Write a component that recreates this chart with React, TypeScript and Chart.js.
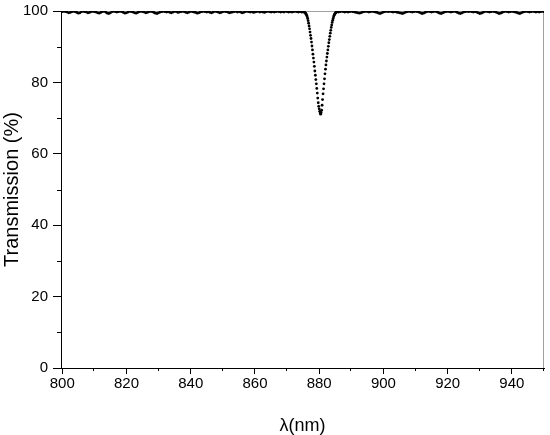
import { useEffect, useRef } from 'react';
import { Chart, registerables } from 'chart.js';

Chart.register(...registerables);

// Baseline left of the dip: wavelength 800.0 .. 875.0 nm, 0.5 nm step
const baseLeftStart = 800;
const baseStep = 0.5;
const baseLeftT = [
  99.8, 99.9, 99.8, 99.7, 99.5, 99.6, 99.8, 99.9, 99.8, 99.6, 99.4, 99.5, 99.8, 99.9, 99.8, 99.7, 99.5, 99.6,
  99.8, 99.9, 99.8, 99.7, 99.5, 99.4, 99.6, 99.8, 99.9, 99.7, 99.4, 99.3, 99.5, 99.8, 99.9, 99.8, 99.7, 99.8, 99.9,
  99.8, 99.6, 99.4, 99.5, 99.7, 99.9, 99.8, 99.7, 99.5, 99.4, 99.6, 99.8, 99.9, 99.8, 99.7, 99.5, 99.6, 99.8, 99.9,
  99.8, 99.6, 99.4, 99.3, 99.5, 99.7, 99.8, 99.9, 99.8, 99.7, 99.8, 99.6, 99.5, 99.7, 99.9, 99.8, 99.6, 99.7, 99.8,
  99.9, 99.8, 99.6, 99.5, 99.7, 99.9, 99.8, 99.7, 99.6, 99.4, 99.5, 99.7, 99.8, 99.9, 99.8, 99.7, 99.8, 99.6, 99.5,
  99.7, 99.9, 99.8, 99.7, 99.5, 99.6, 99.8, 99.9, 99.8, 99.7, 99.5, 99.6, 99.7, 99.8, 99.9, 99.7, 99.8, 99.7, 99.5,
  99.6, 99.8, 99.9, 99.8, 99.7, 99.8, 99.6, 99.7, 99.8, 99.9, 99.7, 99.8, 99.7, 99.6, 99.8, 99.9, 99.8, 99.7, 99.8,
  99.7, 99.8, 99.9, 99.8, 99.7, 99.8, 99.7, 99.9, 99.8, 99.7, 99.8, 99.7, 99.8, 99.9, 99.8, 99.7, 99.8, 99.7, 99.7,
];

// Absorption dip
const dipLambda = [
  875.5, 875.65, 875.8, 875.95, 876.1, 876.25, 876.4, 876.55, 876.7, 876.85,
  877.0, 877.15, 877.3, 877.45, 877.6, 877.75, 877.9, 878.05, 878.2, 878.35,
  878.5, 878.65, 878.8, 878.95, 879.1, 879.25, 879.4, 879.55, 879.7, 879.85,
  880.0, 880.15, 880.3, 880.45, 880.6, 880.75, 880.9, 881.05, 881.2, 881.35,
  881.5, 881.65, 881.8, 881.95, 882.1, 882.25, 882.4, 882.55, 882.7, 882.85,
  883.0, 883.15, 883.3, 883.45, 883.6, 883.75, 883.9, 884.05, 884.2, 884.35,
  884.5, 884.65, 884.8, 884.95, 885.1, 885.25, 885.4,
];
const dipT = [
  99.6, 99.5, 99.3, 99.1, 98.8, 98.4, 97.9, 97.3, 96.6, 95.8,
  95.0, 94.1, 93.2, 92.3, 91.3, 90.2, 89.1, 87.9, 86.8, 85.7,
  84.5, 83.2, 82.0, 80.8, 79.6, 78.3, 77.0, 75.6, 74.3, 73.3,
  72.6, 71.9, 71.4, 71.1, 71.5, 72.2, 73.6, 75.2, 76.8, 78.2,
  79.6, 81.0, 82.4, 83.7, 84.9, 86.0, 87.1, 88.1, 89.1, 90.1,
  91.1, 92.0, 92.9, 93.8, 94.6, 95.4, 96.1, 96.8, 97.4, 97.9,
  98.4, 98.8, 99.1, 99.3, 99.5, 99.6, 99.7,
];

// Baseline right of the dip: 885.5 .. 950.0 nm, 0.5 nm step
const baseRightStart = 885.5;
const baseRightT = [
  99.8, 99.7, 99.8, 99.9, 99.8, 99.7, 99.8, 99.7, 99.8, 99.9, 99.8, 99.7, 99.6,
  99.5, 99.4, 99.5, 99.7, 99.8, 99.9, 99.8, 99.7, 99.8, 99.9, 99.8, 99.7, 99.6,
  99.4, 99.3, 99.5, 99.7, 99.8, 99.9, 99.8, 99.9, 99.8, 99.7, 99.8, 99.7, 99.6,
  99.5, 99.4, 99.3, 99.5, 99.7, 99.8, 99.9, 99.8, 99.7, 99.8, 99.9, 99.8, 99.7,
  99.5, 99.3, 99.4, 99.6, 99.8, 99.9, 99.8, 99.7, 99.8, 99.9, 99.8, 99.6, 99.4,
  99.3, 99.5, 99.7, 99.8, 99.9, 99.8, 99.7, 99.8, 99.9, 99.8, 99.6, 99.4, 99.3,
  99.5, 99.7, 99.8, 99.9, 99.8, 99.9, 99.8, 99.7, 99.8, 99.7, 99.5, 99.3, 99.4,
  99.6, 99.8, 99.9, 99.8, 99.7, 99.8, 99.9, 99.8, 99.7, 99.5, 99.3, 99.4, 99.6,
  99.8, 99.9, 99.8, 99.7, 99.8, 99.9, 99.8, 99.7, 99.6, 99.4, 99.3, 99.5, 99.7,
  99.8, 99.9, 99.8, 99.7, 99.8, 99.9, 99.8, 99.7, 99.8, 99.7, 99.8, 99.9, 99.8,
];

const xMajorTicks = [800, 820, 840, 860, 880, 900, 920, 940];
const xMinorTicks = [810, 830, 850, 870, 890, 910, 930, 950];
const yMajorTicks = [0, 20, 40, 60, 80, 100];
const yMinorTicks = [10, 30, 50, 70, 90];

const FONT = "'Liberation Sans', Arial, Helvetica, sans-serif";

const decorPlugin = {
  id: 'decor',
  beforeDatasetsDraw(chart: any) {
    const { ctx, chartArea: a } = chart;
    ctx.save();
    ctx.strokeStyle = '#a0a0a0';
    ctx.lineWidth = 1;
    ctx.beginPath();
    ctx.moveTo(a.left, a.top + 0.5);
    ctx.lineTo(a.right - 0.5, a.top + 0.5);
    ctx.lineTo(a.right - 0.5, a.bottom);
    ctx.stroke();
    ctx.restore();
  },
  afterDraw(chart: any) {
    const { ctx, chartArea: a, scales } = chart;
    ctx.save();
    ctx.strokeStyle = '#000';
    ctx.lineWidth = 1;
    ctx.beginPath();
    for (const v of xMinorTicks) {
      const px = Math.round(scales.x.getPixelForValue(v)) - 0.5;
      ctx.moveTo(px, a.bottom);
      ctx.lineTo(px, a.bottom + 3);
    }
    for (const v of yMinorTicks) {
      const py = Math.round(scales.y.getPixelForValue(v)) + 0.5;
      ctx.moveTo(a.left, py);
      ctx.lineTo(a.left - 4, py);
    }
    ctx.stroke();
    ctx.restore();
  },
};

export default function App() {
  const ref = useRef<HTMLCanvasElement | null>(null);

  useEffect(() => {
    const points: { x: number; y: number }[] = [];
    baseLeftT.forEach((t, i) => points.push({ x: baseLeftStart + i * baseStep, y: t }));
    dipLambda.forEach((l, i) => points.push({ x: l, y: dipT[i] }));
    baseRightT.forEach((t, i) => points.push({ x: baseRightStart + i * baseStep, y: t }));

    const chart = new Chart(ref.current as HTMLCanvasElement, {
      type: 'scatter',
      data: {
        datasets: [
          {
            data: points,
            showLine: false,
            pointRadius: 1.4,
            pointBorderWidth: 0,
            pointBackgroundColor: '#000',
            pointBorderColor: '#000',
          },
        ],
      },
      options: {
        responsive: false,
        animation: false,
        events: [],
        layout: { padding: { top: 11, right: 6, left: 0, bottom: 0 } },
        plugins: { legend: { display: false }, tooltip: { enabled: false } },
        scales: {
          x: {
            type: 'linear',
            min: 799.6,
            max: 950,
            afterBuildTicks: (s: any) => {
              s.ticks = xMajorTicks.map((v) => ({ value: v }));
            },
            afterFit: (s: any) => {
              s.height = 67;
              s.paddingLeft = 0;
              s.paddingRight = 0;
            },
            grid: {
              display: true,
              drawOnChartArea: false,
              drawTicks: true,
              tickLength: 6,
              color: '#000',
              tickColor: '#000',
            },
            border: { display: true, color: '#000', width: 1 },
            ticks: {
              font: { family: FONT, size: 15 },
              color: '#000',
              padding: 1,
              maxRotation: 0,
              autoSkip: false,
            },
            title: {
              display: true,
              text: 'λ(nm)',
              font: { family: FONT, size: 18 },
              color: '#000',
              padding: { top: 0, bottom: -2 },
            },
          },
          y: {
            type: 'linear',
            min: 0,
            max: 100,
            afterBuildTicks: (s: any) => {
              s.ticks = yMajorTicks.map((v) => ({ value: v }));
            },
            afterFit: (s: any) => {
              s.width = 61;
              s.paddingTop = 0;
              s.paddingBottom = 0;
            },
            grid: {
              display: true,
              drawOnChartArea: false,
              drawTicks: true,
              tickLength: 8,
              color: '#000',
              tickColor: '#000',
            },
            border: { display: true, color: '#000', width: 1 },
            ticks: {
              font: { family: FONT, size: 15 },
              color: '#000',
              padding: 5,
            },
            title: {
              display: true,
              text: 'Transmission (%)',
              font: { family: FONT, size: 20 },
              color: '#000',
              padding: { top: 0, bottom: 0 },
            },
          },
        },
      },
      plugins: [decorPlugin],
    } as any);

    return () => chart.destroy();
  }, []);

  return (
    <div style={{ position: 'absolute', left: 0, top: 0, width: 550, height: 435, background: '#fff' }}>
      <canvas ref={ref} width={550} height={435} />
    </div>
  );
}
